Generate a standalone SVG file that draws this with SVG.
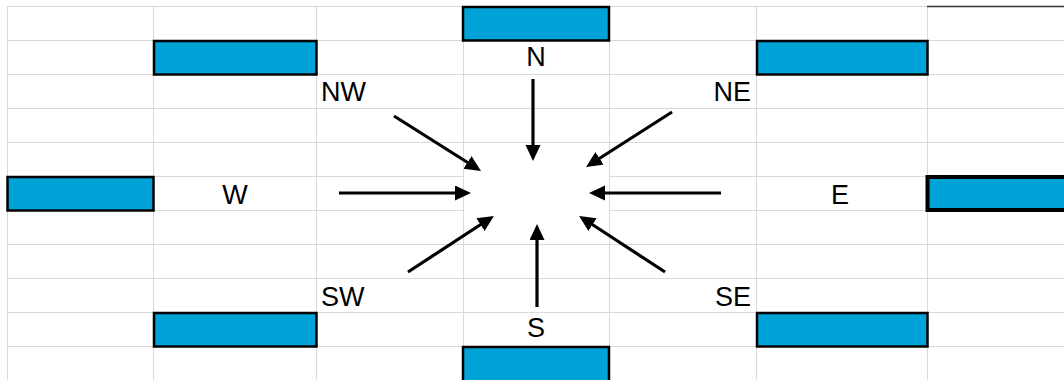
<svg xmlns="http://www.w3.org/2000/svg" width="1064" height="380" viewBox="0 0 1064 380">
<style>
.grid line{stroke:#d9d9d9;stroke-width:1}
.box{fill:#00a3d8;stroke:#000;stroke-width:2.5}
.lbl{font-family:"Liberation Sans",Arial,sans-serif;font-size:27px;fill:#000}
.arr{stroke:#000;stroke-width:3.2;fill:none;marker-end:url(#ah)}
</style>
<defs>
<marker id="ah" markerUnits="userSpaceOnUse" markerWidth="17" markerHeight="16" refX="3" refY="7.5" orient="auto">
<path d="M0,0 L16,7.5 L0,15 z" fill="#000"/>
</marker>
</defs>
<rect width="1064" height="380" fill="#fff"/>
<g class="grid">
<line x1="7" y1="6.5" x2="927" y2="6.5"/>
<line x1="7" y1="40.5" x2="1064" y2="40.5"/>
<line x1="7" y1="74.5" x2="1064" y2="74.5"/>
<line x1="7" y1="108.5" x2="1064" y2="108.5"/>
<line x1="7" y1="142.5" x2="1064" y2="142.5"/>
<line x1="7" y1="176.5" x2="1064" y2="176.5"/>
<line x1="7" y1="210.5" x2="1064" y2="210.5"/>
<line x1="7" y1="244.5" x2="1064" y2="244.5"/>
<line x1="7" y1="278.5" x2="1064" y2="278.5"/>
<line x1="7" y1="312.5" x2="1064" y2="312.5"/>
<line x1="7" y1="346.5" x2="1064" y2="346.5"/>
<line x1="7.5" y1="6" x2="7.5" y2="380"/>
<line x1="153.5" y1="6" x2="153.5" y2="380"/>
<line x1="316.5" y1="6" x2="316.5" y2="380"/>
<line x1="463.5" y1="6" x2="463.5" y2="380"/>
<line x1="609.5" y1="6" x2="609.5" y2="380"/>
<line x1="756.5" y1="6" x2="756.5" y2="380"/>
<line x1="927.5" y1="6" x2="927.5" y2="380"/>
</g>
<rect x="464" y="143" width="145" height="101" fill="#fff"/>
<line x1="927" y1="6.5" x2="1064" y2="6.5" stroke="#333" stroke-width="1.5"/>
<g id="node-N"><rect class="box" x="463" y="7" width="146" height="33.5"/><text class="lbl" x="536" y="66" text-anchor="middle">N</text></g>
<g id="node-NW"><rect class="box" x="154" y="41" width="162.5" height="33.5"/><text class="lbl" x="321" y="101">NW</text></g>
<g id="node-NE"><rect class="box" x="757" y="41" width="170.5" height="33.5"/><text class="lbl" x="751" y="101" text-anchor="end">NE</text></g>
<g id="node-W"><rect class="box" x="7.5" y="177" width="146" height="33.5"/><text class="lbl" x="235" y="203.5" text-anchor="middle">W</text></g>
<g id="node-E"><rect x="927.5" y="177" width="140" height="33" fill="#00a3d8" stroke="#000" stroke-width="4"/><text class="lbl" x="840" y="204" text-anchor="middle">E</text></g>
<g id="node-SW"><rect class="box" x="154" y="313" width="162.5" height="33.5"/><text class="lbl" x="321" y="306">SW</text></g>
<g id="node-S"><rect class="box" x="463" y="347" width="146" height="40"/><text class="lbl" x="536" y="337" text-anchor="middle">S</text></g>
<g id="node-SE"><rect class="box" x="757" y="313" width="170.5" height="33.5"/><text class="lbl" x="751" y="306" text-anchor="end">SE</text></g>
<g id="connectors">
<line class="arr" x1="394" y1="116" x2="470" y2="164"/>
<line class="arr" x1="533" y1="79" x2="533" y2="148"/>
<line class="arr" x1="672" y1="112" x2="597" y2="160"/>
<line class="arr" x1="339" y1="193" x2="458" y2="193"/>
<line class="arr" x1="721" y1="193" x2="602" y2="193"/>
<line class="arr" x1="408" y1="272" x2="483" y2="223"/>
<line class="arr" x1="537" y1="307" x2="537" y2="237"/>
<line class="arr" x1="665" y1="272" x2="590" y2="223"/>
</g>
</svg>
